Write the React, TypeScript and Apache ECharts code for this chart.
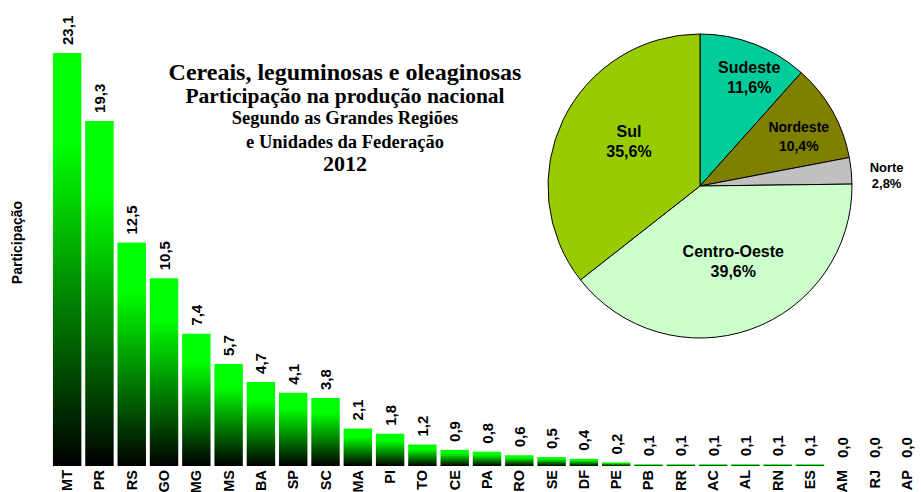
import React, { useEffect, useRef } from "react";
import * as echarts from "echarts";

const categories = ["MT","PR","RS","GO","MG","MS","BA","SP","SC","MA","PI","TO","CE","PA","RO","SE","DF","PE","PB","RR","AC","AL","RN","ES","AM","RJ","AP"];
const values = [23.1,19.3,12.5,10.5,7.4,5.7,4.7,4.1,3.8,2.1,1.8,1.2,0.9,0.8,0.6,0.5,0.4,0.2,0.1,0.1,0.1,0.1,0.1,0.1,0.0,0.0,0.0];

const regions = ["Sudeste","Nordeste","Norte","Centro-Oeste","Sul"];
const shares = [11.6,10.4,2.8,39.6,35.6];
const regionColors = ["#00CC99","#808000","#C0C0C0","#CCFFCC","#99CC00"];
const regionFontSizes = [16,14,13,16,16];
const regionLineHeights = [20,19,16,20,20];
const labelShift = [[21,-35],[30,-11],[108,-3],[7,1],[0,-10]];

const titleLines = ["Cereais, leguminosas e oleaginosas","Participação na produção nacional","Segundo as Grandes Regiões","e Unidades da Federação","2012"];
const titleSizes = [24,21.5,18.5,18.5,22];
const titleY = [72,96,118,142,163];

const SANS = '"Liberation Sans", Arial, sans-serif';
const SERIF = '"Liberation Serif", "Times New Roman", serif';

const fmt = (v: number) => v.toFixed(1).replace(".", ",");

export default function App() {
  const ref = useRef<HTMLDivElement>(null);
  useEffect(() => {
    document.body.style.margin = "0";
    const chart = echarts.init(ref.current!, null, { renderer: "svg" });
    chart.setOption({
      animation: false,
      backgroundColor: "#ffffff",
      grid: { left: 51, right: -2, top: 19, bottom: 26, outerBoundsMode: "none", containLabel: false },
      xAxis: {
        type: "category",
        data: categories,
        axisLine: { show: false },
        axisTick: { show: false },
        axisLabel: { rotate: 90, margin: 4, fontSize: 14.5, fontWeight: "bold", fontFamily: SANS, color: "#000", interval: 0 },
      },
      yAxis: {
        type: "value",
        min: 0,
        max: 25,
        axisLine: { show: false },
        axisTick: { show: false },
        axisLabel: { show: false },
        splitLine: { show: false },
        name: "Participação",
        nameLocation: "middle",
        nameRotate: 90,
        nameGap: 27,
        nameTextStyle: { fontSize: 14, fontWeight: "bold", fontFamily: SANS, color: "#000" },
      },
      graphic: titleLines.map((t, i) => ({
        type: "text",
        x: 345,
        y: titleY[i],
        style: {
          text: t,
          fontSize: titleSizes[i],
          fontWeight: "bold",
          fontFamily: SERIF,
          fill: "#000",
          align: "center",
          verticalAlign: "middle",
          textAlign: "center",
          textVerticalAlign: "middle",
        },
      })),
      series: [
        {
          type: "bar",
          data: values,
          barWidth: "88%",
          itemStyle: {
            color: new echarts.graphic.LinearGradient(0, 0, 0, 1, [
              { offset: 0, color: "#00FF00" },
              { offset: 0.22, color: "#00FF00" },
              { offset: 1, color: "#000000" },
            ]),
          },
          label: {
            show: true,
            position: "top",
            rotate: 90,
            align: "left",
            verticalAlign: "middle",
            distance: 8,
            fontSize: 15,
            fontWeight: "bold",
            fontFamily: SANS,
            color: "#000",
            formatter: (p: any) => fmt(p.value),
          },
        },
        {
          type: "pie",
          center: [700, 186],
          radius: 152,
          startAngle: 90,
          clockwise: true,
          avoidLabelOverlap: false,
          data: regions.map((r, i) => ({
            name: r,
            value: shares[i],
            itemStyle: { color: regionColors[i] },
            label: { fontSize: regionFontSizes[i], lineHeight: regionLineHeights[i] },
          })),
          itemStyle: { borderColor: "#000", borderWidth: 1 },
          label: {
            show: true,
            position: "inside",
            fontWeight: "bold",
            fontFamily: SANS,
            color: "#000",
            align: "center",
            formatter: (p: any) => `${p.name}\n${fmt(p.value)}%`,
          },
          labelLine: { show: false },
          labelLayout: (p: any) => ({ dx: labelShift[p.dataIndex][0], dy: labelShift[p.dataIndex][1] }),
          emphasis: { disabled: true },
        },
      ],
    });
    return () => chart.dispose();
  }, []);
  return <div ref={ref} style={{ position: "absolute", left: 0, top: 0, width: 921, height: 492 }} />;
}
